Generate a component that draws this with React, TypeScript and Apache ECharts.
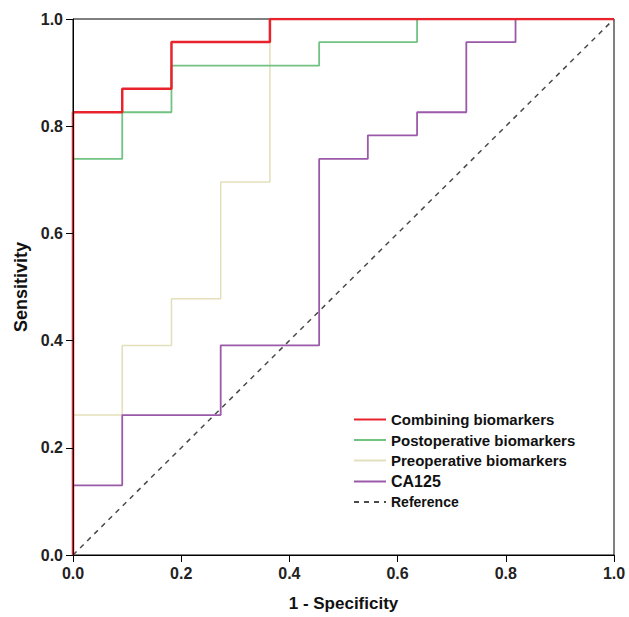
import React, { useEffect, useRef } from "react";
import * as echarts from "echarts";

const seriesNames = [
  "Combining biomarkers",
  "Postoperative biomarkers",
  "Preoperative biomarkers",
  "CA125",
  "Reference",
];

const combiningX = [0, 0, 0.091, 0.091, 0.182, 0.182, 0.364, 0.364, 1];
const combiningY = [0, 0.826, 0.826, 0.87, 0.87, 0.957, 0.957, 1, 1];

const postopX = [0, 0, 0.091, 0.091, 0.182, 0.182, 0.455, 0.455, 0.636, 0.636, 1];
const postopY = [0, 0.739, 0.739, 0.826, 0.826, 0.913, 0.913, 0.957, 0.957, 1, 1];

const preopX = [0, 0, 0.091, 0.091, 0.182, 0.182, 0.273, 0.273, 0.364, 0.364, 1];
const preopY = [0, 0.261, 0.261, 0.391, 0.391, 0.478, 0.478, 0.696, 0.696, 1, 1];

const ca125X = [0, 0, 0.091, 0.091, 0.273, 0.273, 0.455, 0.455, 0.545, 0.545, 0.636, 0.636, 0.727, 0.727, 0.818, 0.818, 1];
const ca125Y = [0, 0.13, 0.13, 0.261, 0.261, 0.391, 0.391, 0.739, 0.739, 0.783, 0.783, 0.826, 0.826, 0.957, 0.957, 1, 1];

const refX = [0, 1];
const refY = [0, 1];

const tickLabels = ["0.0", "0.2", "0.4", "0.6", "0.8", "1.0"];

const zip = (xs: number[], ys: number[]) => xs.map((x, i) => [x, ys[i]]);

export default function App() {
  const ref = useRef<HTMLDivElement>(null);
  useEffect(() => {
    if (!ref.current) return;
    const chart = echarts.init(ref.current, null, { renderer: "svg" });
    const font = "Liberation Sans, Arial, sans-serif";
    const axisCommon = {
      type: "value",
      min: 0,
      max: 1,
      interval: 0.2,
      nameLocation: "middle",
      axisLine: { show: true, lineStyle: { color: "#000", width: 1 } },
      axisTick: { show: true, length: 7, lineStyle: { color: "#000" } },
      axisLabel: {
        fontFamily: font,
        fontWeight: "bold",
        fontSize: 16,
        color: "#222",
        margin: 10,
        formatter: (v: number) => tickLabels[Math.round(v * 5)],
      },
      splitLine: { show: false },
    };
    const lineSeries = (name: string, data: number[][], color: string, width: number, z: number, dashed = false) => ({
      name,
      type: "line",
      data,
      symbol: "none",
      z,
      lineStyle: { color, width, type: dashed ? [5, 5] : "solid" },
      itemStyle: { color },
    });
    const rs = (size: number) => ({ fontFamily: font, fontWeight: "bold", fontSize: size, lineHeight: 16, color: "#111" });
    chart.setOption({
      animation: false,
      backgroundColor: "#fff",
      grid: {
        left: 73,
        right: 15,
        top: 19,
        bottom: 59,
        show: true,
        borderColor: "#000",
        borderWidth: 1,
        backgroundColor: "transparent",
      },
      xAxis: {
        ...axisCommon,
        name: "1 - Specificity",
        nameGap: 40,
        nameTextStyle: { fontFamily: font, fontWeight: "bold", fontSize: 17, color: "#111" },
      },
      yAxis: {
        ...axisCommon,
        z: 6,
        name: "Sensitivity",
        nameGap: 38,
        nameTextStyle: { fontFamily: font, fontWeight: "bold", fontSize: 18, color: "#111" },
      },
      legend: {
        orient: "vertical",
        left: 353,
        top: 412,
        padding: 0,
        itemWidth: 32,
        itemHeight: 14,
        itemGap: 5.5,
        itemStyle: { opacity: 0 },
        data: seriesNames,
        formatter: (name: string) => {
          if (name === seriesNames[3]) return "{d|" + name + "}";
          if (name === seriesNames[4]) return "{c|" + name + "}";
          return "{a|" + name + "}";
        },
        textStyle: {
          fontFamily: font,
          fontWeight: "bold",
          color: "#111",
          rich: { a: rs(15), c: rs(14), d: rs(16) },
        },
      },
      series: [
        lineSeries(seriesNames[4], zip(refX, refY), "#4a4a4a", 1.5, 1, true),
        lineSeries(seriesNames[2], zip(preopX, preopY), "#e3dfba", 1.5, 2),
        lineSeries(seriesNames[3], zip(ca125X, ca125Y), "#9b5aa9", 1.8, 3),
        lineSeries(seriesNames[1], zip(postopX, postopY), "#72c282", 1.8, 4),
        lineSeries(seriesNames[0], zip(combiningX, combiningY), "#e8232c", 2.5, 5),
      ],
    });
    return () => chart.dispose();
  }, []);
  return <div ref={ref} style={{ width: 629, height: 617, position: "absolute", left: 0, top: 0 }} />;
}
